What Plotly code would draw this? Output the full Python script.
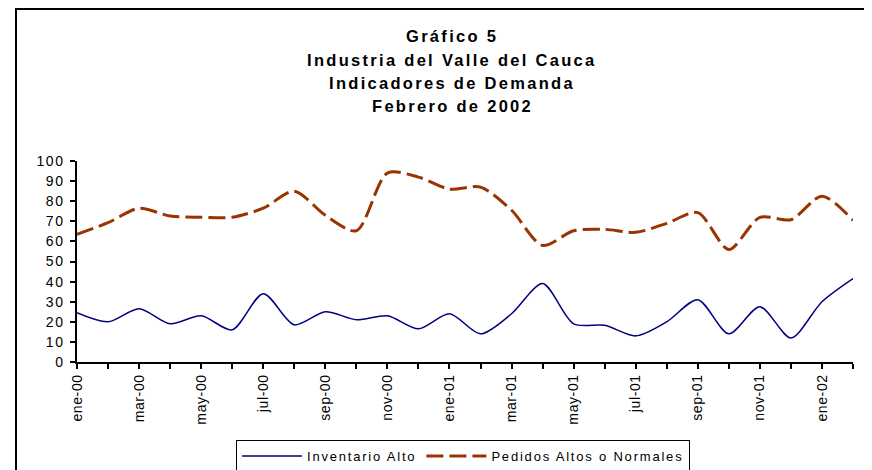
import plotly.graph_objects as go

months = ["ene-00","feb-00","mar-00","abr-00","may-00","jun-00","jul-00","ago-00","sep-00","oct-00","nov-00","dic-00",
          "ene-01","feb-01","mar-01","abr-01","may-01","jun-01","jul-01","ago-01","sep-01","oct-01","nov-01","dic-01",
          "ene-02","feb-02"]
inventario_alto = [24.5, 20, 26.5, 19, 23, 16, 34, 18.5, 25, 21, 23, 16.5,
                   24, 14, 24, 39, 19, 18.3, 13, 20, 31, 14, 27.5, 12, 30, 41.5]
pedidos_altos = [63.5, 69.3, 76.5, 72.6, 72, 72, 76.5, 85, 73, 65.3, 94, 92,
                 86, 87, 75.5, 58, 65.3, 66, 64.5, 69, 74.3, 56, 72, 70.8, 82.5, 70.5]
x_tick_labels = months[::2]
y_tick_values = [0, 10, 20, 30, 40, 50, 60, 70, 80, 90, 100]
y_tick_labels = [str(v) for v in y_tick_values]

x = list(range(len(months)))

OFF = 8  # page body margin
WIN_W, WIN_H = 872, 470
W, H = WIN_W - OFF, WIN_H - OFF
# plot area in window pixels
L, R, T, B = 77, 853, 161, 362
pw, ph = R - L, B - T


def px(xp):
    return (xp - L) / pw


def py(yp):
    return (B - yp) / ph


def spaced(s, sp):
    return "<span style='letter-spacing:%spx'>%s</span>" % (sp, s)


fig = go.Figure()
fig.add_trace(go.Scatter(x=x, y=inventario_alto, mode="lines", name=spaced("Inventario Alto", 1.8),
                         line=dict(color="#000080", width=1.5, shape="spline", smoothing=0.8)))
fig.add_trace(go.Scatter(x=x, y=pedidos_altos, mode="lines", name=spaced("Pedidos Altos o Normales", 1.8),
                         line=dict(color="#993300", width=3, shape="spline", smoothing=0.8, dash="17px,6px")))

font_family = "Liberation Sans, Arial, sans-serif"

fig.update_layout(
    width=W, height=H,
    margin=dict(l=L - OFF, r=W - (R - OFF), t=T - OFF, b=H - (B - OFF), pad=0, autoexpand=False),
    paper_bgcolor="white", plot_bgcolor="white",
    font=dict(family=font_family, size=13, color="black"),
    showlegend=True,
    legend=dict(orientation="h", x=px(463), xanchor="center", y=py(440), yanchor="top",
                bordercolor="black", borderwidth=1, bgcolor="white",
                font=dict(size=13), itemwidth=60, tracegroupgap=0),
    xaxis=dict(range=[0, 25], tickmode="array", tickvals=x[::2],
               ticktext=[spaced(t, 0.6) for t in x_tick_labels],
               tickangle=-90, ticks="outside", ticklen=5, tickwidth=1.5, tickcolor="black",
               showline=True, linecolor="black", linewidth=1.5, showgrid=False, zeroline=False,
               minor=dict(tickmode="array", tickvals=x, ticks="outside", ticklen=5, tickwidth=1.5, tickcolor="black"),
               tickfont=dict(size=14)),
    yaxis=dict(range=[0, 100], tickmode="array", tickvals=y_tick_values,
               ticktext=[spaced(t, 1.5) for t in y_tick_labels],
               ticks="outside", ticklen=5, tickwidth=1.5, tickcolor="black", ticklabelstandoff=3,
               showline=True, linecolor="black", linewidth=1.5, showgrid=False, zeroline=False,
               tickfont=dict(size=14)),
)

title_lines = [("Gráfico 5", 36), ("Industria del Valle del Cauca", 60),
               ("Indicadores de Demanda", 83), ("Febrero de 2002", 106)]
for txt, yy in title_lines:
    fig.add_annotation(text="<b>" + spaced(txt, 2.3) + "</b>", x=px(452), y=py(yy), xref="paper", yref="paper",
                       xanchor="center", yanchor="middle", showarrow=False,
                       font=dict(size=16.5, family=font_family, color="black"))

# chart area border (left and top)
fig.add_shape(type="line", xref="paper", yref="paper", x0=px(16), x1=px(16), y0=py(9), y1=py(480),
              line=dict(color="black", width=2))
fig.add_shape(type="line", xref="paper", yref="paper", x0=px(15), x1=px(890), y0=py(9), y1=py(9),
              line=dict(color="black", width=2))

fig.write_html("out.html")
